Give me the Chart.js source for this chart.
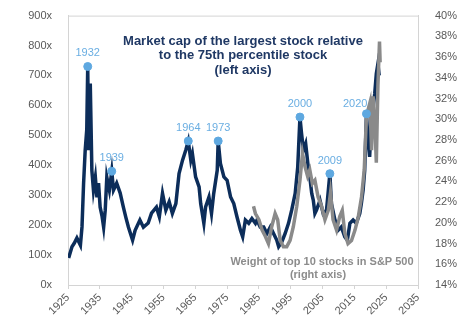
<!DOCTYPE html>
<html>
<head>
<meta charset="utf-8">
<script src="https://cdn.jsdelivr.net/npm/chart.js@4"></script>
<style>
  body { margin: 0; background: #fff; }
</style>
</head>
<body>
<canvas id="capChart" width="457" height="329"></canvas>
<script>
// market cap of largest stock / 75th percentile stock (left axis, x)
const capYears = [1925.2, 1926.25, 1927.0, 1927.8, 1928.9, 1929.4, 1929.9, 1930.4, 1930.9, 1931.2,
    1931.5, 1932.0, 1932.5, 1933.0, 1933.6, 1934.1, 1934.6, 1935.1, 1935.7, 1936.2,
    1936.7, 1937.2, 1938.0, 1938.75, 1939.3, 1940.3, 1941.4, 1942.4, 1943.2, 1944.0,
    1945.3, 1946.1, 1947.6, 1948.7, 1950.2, 1951.25, 1952.8, 1953.7, 1954.7, 1955.75,
    1956.8, 1957.8, 1958.9, 1959.9, 1961.0, 1962.0, 1962.8, 1963.6, 1964.1, 1965.1,
    1966.2, 1966.7, 1967.7, 1968.25, 1969.3, 1970.1, 1970.8, 1971.9, 1972.2, 1972.9,
    1974.0, 1975.0, 1976.1, 1977.1, 1978.1, 1979.2, 1979.9, 1980.75, 1981.8, 1982.8,
    1983.9, 1984.4, 1985.4, 1986.5, 1987.5, 1988.6, 1989.6, 1990.6, 1991.2, 1992.2,
    1993.25, 1994.3, 1995.3, 1996.4, 1997.2, 1997.9, 1998.4, 1999.0, 1999.7, 2000.5,
    2001.0, 2001.6, 2002.1, 2002.6, 2003.1, 2004.2, 2005.2, 2006.25, 2007.3, 2007.8,
    2008.9, 2009.9, 2010.9, 2012.0, 2012.8, 2013.6, 2014.6, 2015.6, 2016.7, 2017.2,
    2017.75, 2018.25, 2018.8, 2019.3, 2019.8, 2020.3, 2021.4, 2021.9, 2022.4, 2022.8];
const capValues = [90, 128, 140, 157, 133, 194, 340, 450, 520, 730,
    450, 673, 383, 317, 360, 293, 340, 260, 230, 193,
    250, 360, 317, 380, 317, 340, 307, 260, 225, 193,
    150, 183, 217, 193, 207, 240, 260, 228, 306, 250,
    278, 239, 272, 372, 417, 450, 481, 417, 439, 361,
    328, 272, 206, 261, 294, 239, 306, 383, 481, 406,
    361, 350, 294, 272, 228, 183, 161, 217, 206, 222,
    206, 217, 194, 194, 172, 194, 172, 150, 128, 144,
    172, 206, 250, 306, 394, 561, 506, 450, 472, 394,
    361, 306, 283, 239, 250, 283, 239, 250, 372, 272,
    217, 183, 194, 161, 150, 206, 217, 206, 239, 272,
    317, 383, 572, 483, 428, 539, 639, 706, 739, 700];

// weight of top 10 stocks in S&P 500 (right axis, %)
const weightYears = [1983.3, 1983.9, 1985.0, 1986.0, 1987.0, 1988.0, 1989.0, 1990.1, 1990.9, 1991.7,
    1992.7, 1993.75, 1994.8, 1995.8, 1996.9, 1997.9, 1998.7, 1999.5, 2000.3, 2001.0,
    2001.8, 2002.6, 2003.6, 2004.7, 2005.75, 2006.8, 2007.5, 2008.3, 2009.4, 2010.4,
    2011.2, 2012.0, 2013.0, 2014.1, 2015.2, 2016.25, 2017.25, 2018.1, 2018.8, 2019.9,
    2020.4, 2020.9, 2021.6, 2021.9, 2022.4, 2022.9, 2023.1];
const weightValues = [21.6, 20.9, 20.3, 19.3, 18.7, 18.0, 19.6, 20.9, 20.3, 18.3,
    17.7, 17.7, 18.3, 19.6, 21.6, 24.1, 26.7, 25.4, 24.5, 25.1,
    23.8, 24.1, 22.5, 21.6, 20.3, 21.2, 22.9, 20.3, 19.3, 20.6,
    21.2, 19.0, 18.0, 18.3, 19.3, 20.6, 22.5, 25.1, 30.3, 31.6,
    27.0, 32.2, 28.3, 25.8, 33.2, 37.5, 35.5];

// labelled peaks
const peakLabels = ['1932', '1939', '1964', '1973', '2000', '2009', '2020'];
const peakYears = [1931.2, 1938.75, 1962.8, 1972.2, 1997.9, 2007.3, 2018.8];
const peakValues = [730, 380, 481, 481, 561, 372, 572];

const NAVY = '#0c2d5a';
const GREY = '#8a8a8a';
const LIGHT_BLUE = '#5ea8e0';
const FRAME = '#d4d4d4';
const TICK_FONT = { family: 'Liberation Sans, Arial, sans-serif', size: 11 };

const toPoints = (xs, ys) => xs.map((x, i) => ({ x: x, y: ys[i] }));

// frame round the plot area
const framePlugin = {
    id: 'frame',
    beforeDatasetsDraw(chart) {
        const { ctx, chartArea: a } = chart;
        ctx.save();
        ctx.strokeStyle = FRAME;
        ctx.lineWidth = 1;
        ctx.strokeRect(a.left + 0.5, a.top + 0.5, a.right - a.left, a.bottom - a.top);
        ctx.restore();
    }
};

// year labels over the peak dots
const peakLabelPlugin = {
    id: 'peakLabels',
    afterDatasetsDraw(chart) {
        const { ctx } = chart;
        const meta = chart.getDatasetMeta(0);
        ctx.save();
        ctx.font = '11px "Liberation Sans", Arial, sans-serif';
        ctx.fillStyle = '#6aaee2';
        ctx.textBaseline = 'alphabetic';
        meta.data.forEach((pt, i) => {
            const label = peakLabels[i];
            if (label === '2020') {
                ctx.textAlign = 'right';
                ctx.fillText(label, pt.x + 1, pt.y - 7);
            } else {
                ctx.textAlign = 'center';
                ctx.fillText(label, pt.x, pt.y - 10);
            }
        });
        ctx.restore();
    }
};

// series captions drawn inside the plot
const captionPlugin = {
    id: 'captions',
    afterDraw(chart) {
        const { ctx } = chart;
        ctx.save();
        ctx.textAlign = 'center';
        ctx.textBaseline = 'middle';
        ctx.font = 'bold 13px "Liberation Sans", Arial, sans-serif';
        ctx.fillStyle = '#1f3864';
        ctx.fillText('Market cap of the largest stock relative', 243, 41);
        ctx.fillText('to the 75th percentile stock', 243, 55);
        ctx.fillText('(left axis)', 243, 70);

        ctx.font = 'bold 11px "Liberation Sans", Arial, sans-serif';
        ctx.fillStyle = '#8c8c8c';
        ctx.fillText('Weight of top 10 stocks in S&P 500', 322, 262);
        ctx.fillText('(right axis)', 318, 275);
        ctx.restore();
    }
};

new Chart(document.getElementById('capChart'), {
    type: 'line',
    data: {
        datasets: [{
            type: 'scatter',
            label: 'Peaks',
            data: toPoints(peakYears, peakValues),
            yAxisID: 'y',
            backgroundColor: LIGHT_BLUE,
            borderColor: LIGHT_BLUE,
            pointRadius: 4,
            order: 0
        }, {
            label: 'Weight of top 10 stocks in S&P 500',
            data: toPoints(weightYears, weightValues),
            yAxisID: 'y1',
            borderColor: GREY,
            borderWidth: 3.5,
            pointRadius: 0,
            tension: 0,
            order: 1
        }, {
            label: 'Market cap of the largest stock relative to the 75th percentile stock',
            data: toPoints(capYears, capValues),
            yAxisID: 'y',
            borderColor: NAVY,
            borderWidth: 3.5,
            pointRadius: 0,
            tension: 0,
            order: 2
        }]
    },
    options: {
        responsive: false,
        animation: false,
        devicePixelRatio: 1,
        layout: { padding: { top: 15, left: 0, right: 0, bottom: 0 } },
        plugins: {
            legend: { display: false },
            tooltip: { enabled: false }
        },
        scales: {
            x: {
                type: 'linear',
                min: 1925,
                max: 2035,
                afterFit: (s) => { s.height = 44; },
                ticks: {
                    stepSize: 10,
                    autoSkip: false,
                    maxRotation: 45,
                    minRotation: 45,
                    color: '#595959',
                    font: TICK_FONT,
                    padding: 2,
                    callback: (v) => String(v)
                },
                grid: { drawOnChartArea: false, drawTicks: true, tickLength: 4, color: FRAME },
                border: { color: FRAME }
            },
            y: {
                position: 'left',
                min: 0,
                max: 900,
                afterFit: (s) => { s.width = 68; },
                ticks: {
                    stepSize: 100,
                    color: '#595959',
                    font: TICK_FONT,
                    padding: 8,
                    callback: (v) => v + 'x'
                },
                grid: { display: false },
                border: { color: FRAME }
            },
            y1: {
                position: 'right',
                min: 14,
                max: 40,
                afterFit: (s) => { s.width = 39; },
                ticks: {
                    stepSize: 2,
                    color: '#595959',
                    font: TICK_FONT,
                    padding: 9,
                    callback: (v) => v + '%'
                },
                grid: { display: false },
                border: { color: FRAME }
            }
        }
    },
    plugins: [framePlugin, peakLabelPlugin, captionPlugin]
});
</script>
</body>
</html>
